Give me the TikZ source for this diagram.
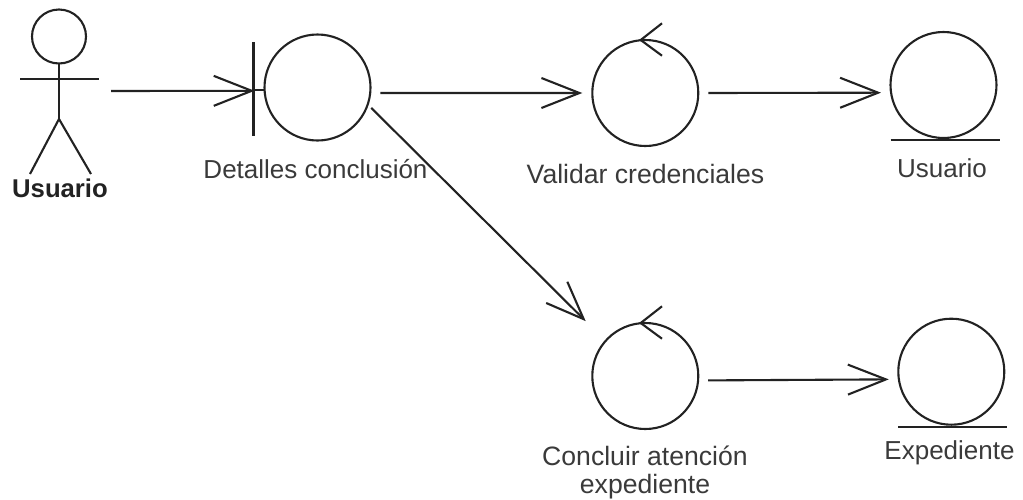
\documentclass[tikz,border=0pt]{standalone}
\usepackage{fontspec}
\usepackage{tikz}
\usepackage{xcolor}
\usetikzlibrary{arrows.meta}
\setmainfont{Liberation Sans}
\definecolor{ink}{HTML}{222222}
\definecolor{caption}{HTML}{3A3A3A}
\tikzset{
    robust-circle/.style = {draw=ink, line width=2.1pt, circle, minimum size=106pt, inner sep=0pt, outer sep=10pt},
    robust-line/.style = {draw=ink, line width=2.1pt},
    robust-flow/.style = {draw=ink, line width=2.1pt, -{Straight Barb[length=38pt,width=30pt]}},
    robust-text/.style = {text=caption, font=\fontsize{26}{28}\selectfont, inner sep=0pt, align=center},
    robust-text-wide/.style = {robust-text, font=\fontsize{26.6}{28}\selectfont},
    actor-text/.style = {text=ink, font=\fontsize{25.7}{28}\selectfont\bfseries, inner sep=0pt},
}
\newcommand{\boundarymark}[1]{
    \draw[robust-line] ([shift={(-64,-45.5)}]#1.center) -- ([shift={(-64,48.5)}]#1.center);
    \draw[robust-line] ([shift={(-64,2.5)}]#1.center) -- ([shift={(-53,2.5)}]#1.center);
}
\newcommand{\controlmark}[1]{
    \draw[robust-line] ([shift={(16.7,-69.7)}]#1.center) -- ([shift={(-4.6,-53)}]#1.center) -- ([shift={(16.7,-37.3)}]#1.center);
}
\newcommand{\entitymark}[1]{
    \draw[robust-line] ([shift={(-53,55)}]#1.center) -- ([shift={(56,55)}]#1.center);
}

\begin{document}
\begin{tikzpicture}[x=1pt, y=-1pt]
\useasboundingbox (0,0) rectangle (1023,499);

% actor
\node[robust-circle, minimum size=54pt, outer sep=0pt] (actor-head) at (59,36.5) {};
\coordinate (actor-hip) at (59,119);
\coordinate (actor-left-arm) at (20,79);
\coordinate (actor-right-arm) at (99,79);
\coordinate (actor-left-foot) at (30,174);
\coordinate (actor-right-foot) at (91,174);
\coordinate (actor-out) at (111,91);
\draw[robust-line] (actor-head.south) -- (actor-hip);
\draw[robust-line] (actor-left-arm) -- (actor-right-arm);
\draw[robust-line] (actor-left-foot) -- (actor-hip) -- (actor-right-foot);
\node[actor-text] (actor-name) at (60,188.5) {Usuario};

% circles
\node[robust-circle] (detalles) at (317.5,87.5) {};
\node[robust-circle] (validar) at (645.3,93) {};
\node[robust-circle] (usuario) at (943.5,85) {};
\node[robust-circle] (concluir) at (645.3,376) {};
\node[robust-circle] (expediente) at (951.3,371.7) {};
\boundarymark{detalles}
\controlmark{validar}
\controlmark{concluir}
\entitymark{usuario}
\entitymark{expediente}

% labels
\node[robust-text] (detalles-name) at (315.5,169) {Detalles conclusión};
\node[robust-text-wide] (validar-name) at (645.5,174) {Validar credenciales};
\node[robust-text] (usuario-name) at (942,168) {Usuario};
\node[robust-text-wide] (concluir-name) at (645,472.5) {Concluir atención\\expediente};
\node[robust-text] (expediente-name) at (949.5,453) {Expediente};

% flows
\draw[robust-flow] (actor-out) -- (detalles.183);
\draw[robust-flow] (detalles.-5) -- (validar.west);
\draw[robust-flow] (validar.east) -- (usuario.187);
\draw[robust-flow, shorten <=-6pt, shorten >=18pt] (detalles.-23) -- (concluir.138);
\draw[robust-flow] (concluir.-4) -- (expediente.187.6);
\end{tikzpicture}
\end{document}
